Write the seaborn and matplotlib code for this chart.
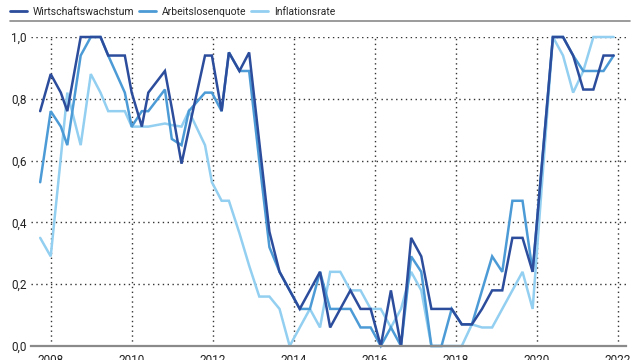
import numpy as np
import pandas as pd
import matplotlib
matplotlib.use("Agg")
import matplotlib.pyplot as plt
from matplotlib.lines import Line2D
import seaborn as sns

# data (x in decimal years, values 0..1)
dates = [2007.74, 2008.00, 2008.25, 2008.41, 2008.74, 2008.99, 2009.23, 2009.42, 2009.83, 2010.00,
         2010.25, 2010.41, 2010.82, 2010.99, 2011.23, 2011.41, 2011.81, 2011.98, 2012.22, 2012.40,
         2012.66, 2012.90, 2013.15, 2013.40, 2013.65, 2013.90, 2014.15, 2014.40, 2014.65, 2014.90,
         2015.15, 2015.40, 2015.65, 2015.90, 2016.15, 2016.40, 2016.65, 2016.90, 2017.15, 2017.40,
         2017.65, 2017.90, 2018.15, 2018.40, 2018.65, 2018.90, 2019.15, 2019.40, 2019.65, 2019.90,
         2020.15, 2020.40, 2020.65, 2020.90, 2021.15, 2021.40, 2021.65, 2021.90]

wachstum = [0.76, 0.88, 0.82, 0.76, 1.00, 1.00, 1.00, 0.94, 0.94, 0.82,
            0.71, 0.82, 0.89, 0.77, 0.59, 0.70, 0.94, 0.94, 0.76, 0.95,
            0.89, 0.95, 0.66, 0.37, 0.24, 0.18, 0.12, 0.18, 0.24, 0.06,
            0.12, 0.18, 0.12, 0.12, 0.00, 0.18, 0.00, 0.35, 0.29, 0.12,
            0.12, 0.12, 0.07, 0.07, 0.12, 0.18, 0.18, 0.35, 0.35, 0.24,
            0.62, 1.00, 1.00, 0.94, 0.83, 0.83, 0.94, 0.94]

arbeitslosen = [0.53, 0.76, 0.71, 0.65, 0.94, 1.00, 1.00, 0.94, 0.82, 0.71,
                0.76, 0.76, 0.83, 0.67, 0.65, 0.76, 0.82, 0.82, 0.76, 0.95,
                0.89, 0.89, 0.60, 0.32, 0.24, 0.18, 0.12, 0.12, 0.24, 0.12,
                0.12, 0.12, 0.06, 0.06, 0.00, 0.06, 0.00, 0.29, 0.24, 0.00,
                0.00, 0.12, 0.07, 0.07, 0.18, 0.29, 0.24, 0.47, 0.47, 0.24,
                0.62, 1.00, 1.00, 0.94, 0.89, 0.89, 0.89, 0.94]

inflation = [0.35, 0.29, 0.61, 0.82, 0.65, 0.88, 0.82, 0.76, 0.76, 0.71,
             0.71, 0.71, 0.72, 0.715, 0.71, 0.76, 0.65, 0.53, 0.47, 0.47,
             0.365, 0.26, 0.16, 0.16, 0.12, 0.00, 0.06, 0.12, 0.06, 0.24,
             0.24, 0.18, 0.18, 0.12, 0.12, 0.06, 0.12, 0.24, 0.18, 0.00,
             0.00, 0.00, 0.00, 0.07, 0.06, 0.06, 0.12, 0.18, 0.24, 0.12,
             0.56, 1.00, 0.94, 0.82, 0.89, 1.00, 1.00, 1.00]

series_names = ["Wirtschaftswachstum", "Arbeitslosenquote", "Inflationsrate"]
colors = ["#2c4c9c", "#4c9bd6", "#93cff0"]
year_ticks = [2008, 2010, 2012, 2014, 2016, 2018, 2020, 2022]
y_ticks = [0.0, 0.2, 0.4, 0.6, 0.8, 1.0]

df = pd.DataFrame({
    "datum": dates * 3,
    "wert": wachstum + arbeitslosen + inflation,
    "reihe": np.repeat(series_names, len(dates)),
})

sns.set_theme(style="white")
plt.rcParams["font.family"] = ["Roboto", "DejaVu Sans"]

fig = plt.figure(figsize=(6.4, 3.6), dpi=100)
ax = fig.add_axes([30.7 / 640, 1 - 346 / 360, (626 - 30.7) / 640, (346 - 37) / 360])

sns.lineplot(data=df, x="datum", y="wert", hue="reihe", hue_order=series_names,
             palette=colors, linewidth=1.8, sort=False, legend=False, ax=ax)

# dark line on top, light at the bottom
for z, line in zip([5, 4, 3], ax.lines):
    line.set_zorder(z)
    line.set_clip_on(False)
    line.set_solid_joinstyle("miter")

ax.set_xlim(2007.506, 2022.205)
ax.set_ylim(0, 1.0)
ax.set_xticks(year_ticks)
ax.set_xticklabels([str(y) for y in year_ticks])
ax.set_yticks(y_ticks)
ax.set_yticklabels([f"{v:.1f}".replace(".", ",") for v in y_ticks])
ax.tick_params(axis="both", length=0, labelsize=8.5, colors="#222222")
ax.tick_params(axis="y", pad=3)
ax.tick_params(axis="x", pad=6)
ax.set_xlabel("")
ax.set_ylabel("")

ax.grid(True, linestyle=(0, (1, 2.5)), color="#333333", linewidth=1.0)
for sp in ["top", "left", "right"]:
    ax.spines[sp].set_visible(False)
ax.spines["bottom"].set_color("#8a8a8a")
ax.spines["bottom"].set_linewidth(1.6)
ax.spines["bottom"].set_zorder(6)

# legend above the chart with a rule underneath
handles = [Line2D([0], [0], color=c, lw=2) for c in colors]
fig.legend(handles, series_names, loc="center left", bbox_to_anchor=(6 / 640, 1 - 12 / 360),
           ncol=3, frameon=False, fontsize=7.5, handlelength=1.6, handletextpad=0.6,
           columnspacing=0.45, borderaxespad=0)
fig.add_artist(Line2D([10 / 640, 630 / 640], [1 - 20.5 / 360, 1 - 20.5 / 360],
                      color="#8a8a8a", lw=1.2))

fig.savefig("out.png", dpi=100)
